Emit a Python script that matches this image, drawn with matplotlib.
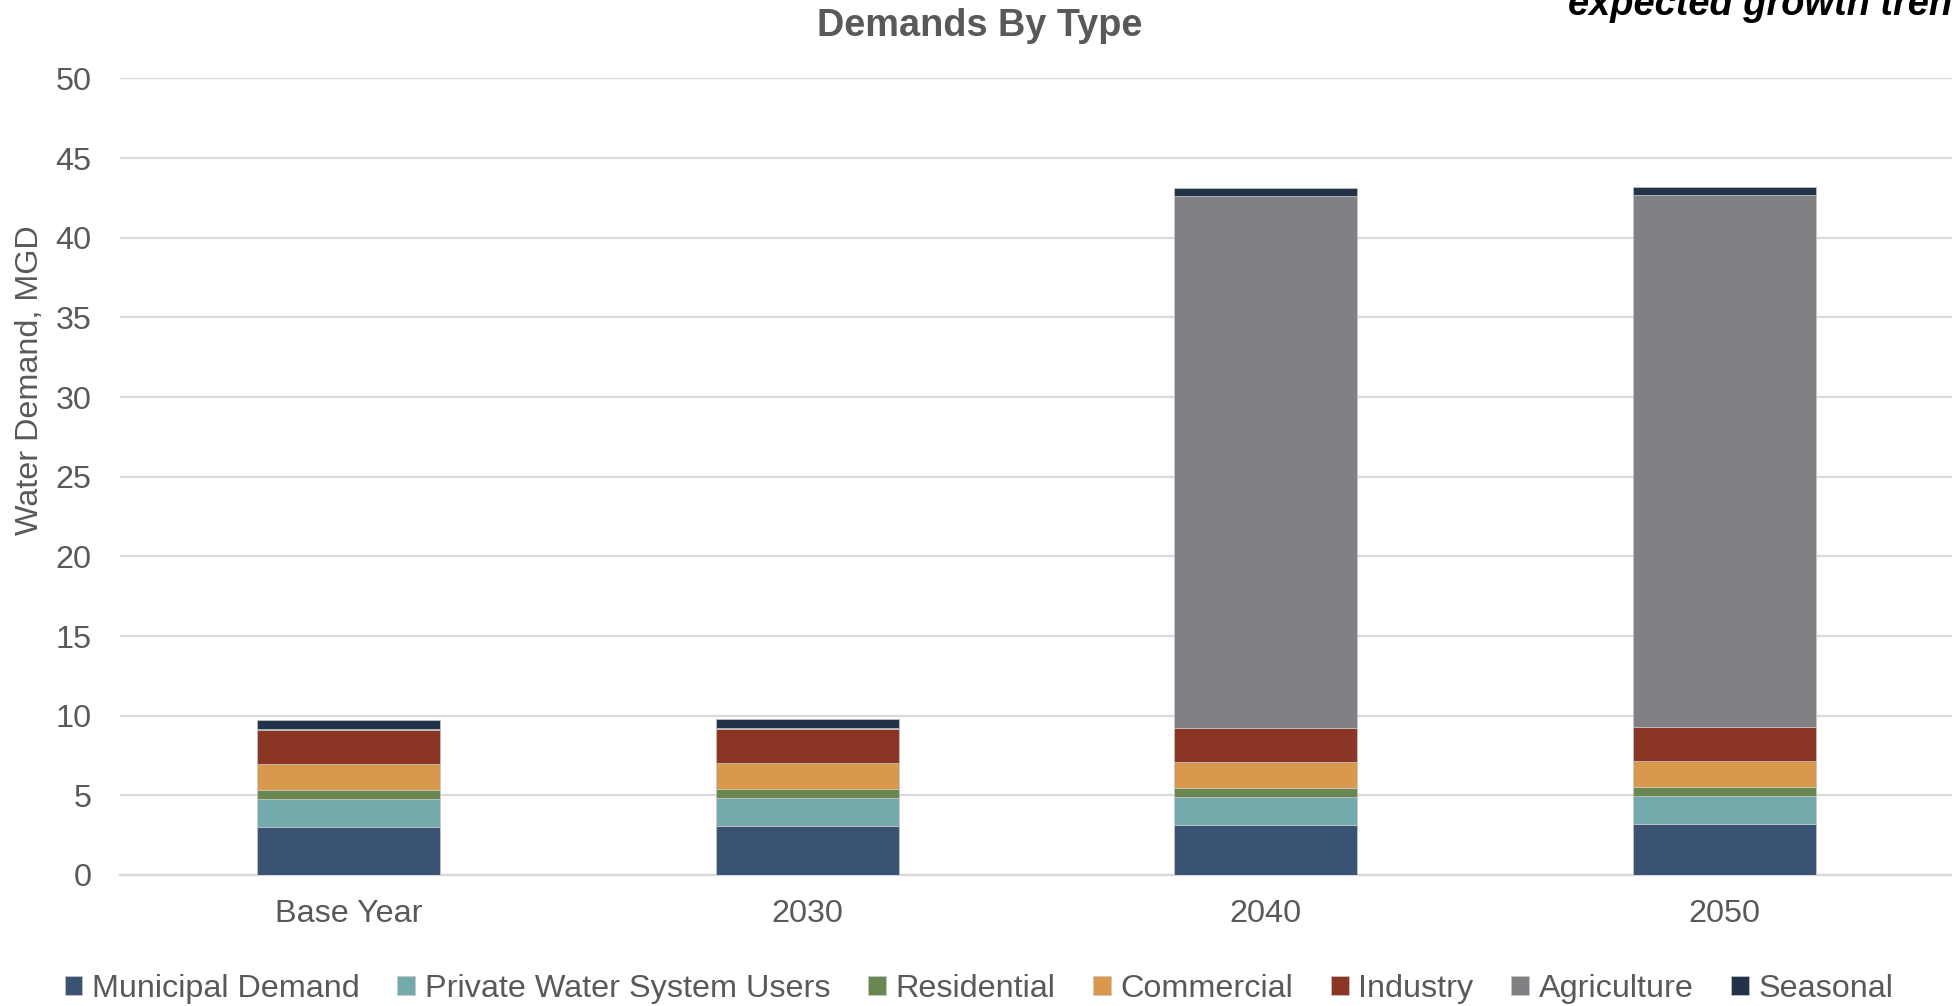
import matplotlib
matplotlib.use("Agg")
import matplotlib.pyplot as plt
import numpy as np

plt.rcParams['font.family'] = ['Liberation Sans', 'DejaVu Sans']

categories = ["Base Year", "2030", "2040", "2050"]
series_names = ["Municipal Demand", "Private Water System Users", "Residential",
                "Commercial", "Industry", "Agriculture", "Seasonal"]
municipal = [3.03, 3.10, 3.16, 3.20]
private_users = [1.72, 1.71, 1.72, 1.74]
residential = [0.59, 0.59, 0.58, 0.58]
commercial = [1.65, 1.65, 1.63, 1.64]
industry = [2.13, 2.13, 2.14, 2.15]
agriculture = [0.05, 0.05, 33.39, 33.37]
seasonal = [0.55, 0.55, 0.48, 0.49]
y_ticks = [0, 5, 10, 15, 20, 25, 30, 35, 40, 45, 50]

colors = ["#3a5374", "#75aaad", "#6a8752", "#d9994c", "#8b3624", "#808184", "#223249"]
text_grey = "#595959"
fs = 23.3

W, H = 1952, 1006
fig = plt.figure(figsize=(W / 100, H / 100), dpi=100)
ax = fig.add_axes([119.5 / W, 1 - 875 / H, 1834 / W, (875 - 78.4) / H])

x = np.arange(len(categories))
stack = [municipal, private_users, residential, commercial, industry, agriculture, seasonal]
bottom = np.zeros(len(categories))
handles = []
for name, vals, col in zip(series_names, stack, colors):
    b = ax.bar(x, vals, width=0.4, bottom=bottom, color=col, label=name,
               edgecolor="#c8c8c8", linewidth=0.5, zorder=3)
    handles.append(b)
    bottom += np.array(vals)

ax.set_xlim(-0.5, 3.5)
ax.set_ylim(0, 50)
ax.set_yticks(y_ticks)
ax.set_xticks(x)
ax.set_xticklabels(categories)
ax.grid(axis="y", color="#d9d9d9", linewidth=1.6, zorder=0)
ax.set_axisbelow(True)
for s in ["top", "right", "left"]:
    ax.spines[s].set_visible(False)
ax.spines["bottom"].set_color("#d9d9d9")
ax.spines["bottom"].set_linewidth(1.6)
ax.tick_params(axis="both", length=0, labelsize=fs, colors=text_grey)
ax.tick_params(axis="y", pad=20)
ax.tick_params(axis="x", pad=17)

fig.text(30 / W, 1 - 380 / H, "Water Demand, MGD", rotation=90, ha="center", va="center",
         fontsize=fs, color=text_grey)
fig.text(980 / W, 1 - 36 / H, "Demands By Type", ha="center", va="baseline",
         fontsize=27.3, fontweight="bold", color=text_grey)
fig.text(1568 / W, 1 - 15 / H, "expected growth trends", ha="left", va="baseline",
         fontsize=27.4, fontweight="bold", fontstyle="italic", color="black")

leg = fig.legend(handles=handles, labels=series_names, loc="center",
                 bbox_to_anchor=(979 / W, 1 - 989 / H), ncol=7, frameon=False,
                 fontsize=fs, handlelength=0.55, handleheight=0.55, handletextpad=0.3,
                 columnspacing=1.16, borderaxespad=0)
for t in leg.get_texts():
    t.set_color(text_grey)

fig.savefig("out.png", dpi=100)
